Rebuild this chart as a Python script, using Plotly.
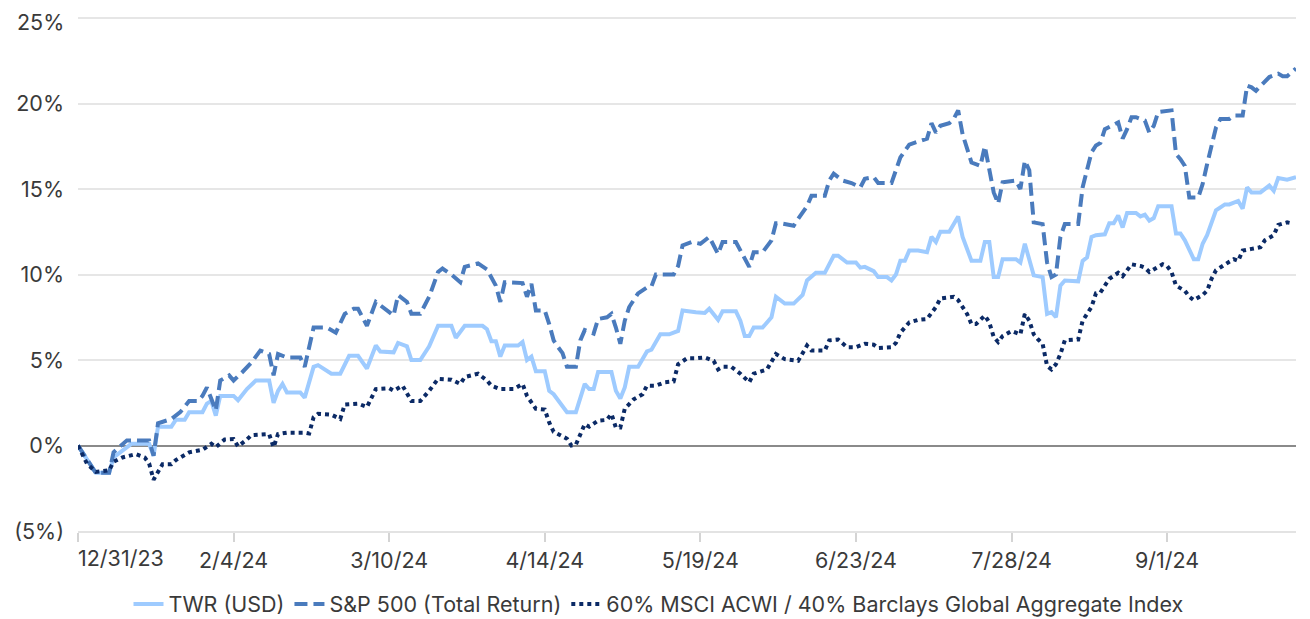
import pandas as pd
import plotly.graph_objects as go

BASE = pd.Timestamp("2023-12-31")

# ---- data (day offsets from 12/31/23, cumulative return in %) ----
twr_days = [0, 4, 7, 8, 10, 12, 16, 17, 18, 21, 22, 24, 25, 28, 29, 30, 31, 32, 35, 36, 38, 40, 43, 44, 45, 46, 47, 50, 51, 53, 54, 57, 59, 61, 63, 65, 67, 68, 71, 72, 74, 75, 77, 79, 81, 84, 85, 87, 91, 92, 93, 94, 95, 96, 99, 100, 101, 102, 103, 105, 106, 107, 110, 112, 114, 115, 116, 117, 120, 121, 122, 123, 124, 126, 128, 129, 131, 133, 135, 136, 139, 141, 142, 143, 144, 145, 148, 149, 150, 151, 152, 154, 156, 157, 159, 161, 163, 164, 166, 168, 170, 171, 173, 175, 176, 177, 179, 180, 182, 183, 184, 185, 186, 187, 189, 191, 192, 193, 194, 196, 197, 198, 199, 201, 203, 204, 205, 206, 207, 208, 211, 212, 213, 215, 217, 218, 219, 220, 221, 222, 225, 226, 227, 228, 229, 231, 232, 233, 234, 235, 236, 238, 239, 240, 241, 242, 243, 246, 247, 248, 249, 251, 252, 253, 254, 256, 258, 259, 261, 262, 263, 264, 266, 268, 269, 270, 272, 274]
twr_vals = [0, -1.6, -1.6, -0.7, -0.3, 0.1, 0.1, -0.6, 1.1, 1.1, 1.5, 1.5, 1.95, 1.95, 2.45, 2.6, 1.75, 2.9, 2.9, 2.65, 3.3, 3.8, 3.8, 2.5, 3.2, 3.6, 3.1, 3.1, 2.8, 4.6, 4.7, 4.2, 4.2, 5.25, 5.25, 4.5, 5.85, 5.5, 5.45, 6.0, 5.8, 5.0, 5.0, 5.8, 7.0, 7.0, 6.3, 7.0, 7.0, 6.8, 6.1, 6.1, 5.2, 5.85, 5.85, 6.05, 5.0, 5.2, 4.35, 4.35, 3.2, 3.0, 1.95, 1.95, 3.6, 3.3, 3.3, 4.3, 4.3, 3.2, 2.75, 3.4, 4.6, 4.6, 5.5, 5.6, 6.5, 6.5, 6.7, 7.9, 7.8, 7.75, 8.0, 7.7, 7.35, 7.85, 7.85, 7.3, 6.4, 6.4, 6.9, 6.9, 7.5, 8.7, 8.3, 8.3, 8.8, 9.65, 10.1, 10.1, 11.1, 11.1, 10.7, 10.7, 10.4, 10.45, 10.2, 9.85, 9.85, 9.65, 10.0, 10.8, 10.8, 11.4, 11.4, 11.3, 12.2, 11.9, 12.5, 12.5, 12.9, 13.4, 12.2, 10.8, 10.8, 11.9, 11.9, 9.85, 9.85, 10.9, 10.9, 10.7, 11.8, 9.95, 9.85, 7.7, 7.8, 7.5, 9.35, 9.65, 9.6, 10.8, 11.0, 12.2, 12.3, 12.35, 13.0, 13.0, 13.45, 12.75, 13.6, 13.6, 13.4, 13.5, 13.15, 13.3, 14.0, 14.0, 12.4, 12.4, 12.0, 10.9, 10.9, 11.8, 12.3, 13.75, 14.1, 14.1, 14.3, 13.85, 15.1, 14.8, 14.8, 15.2, 14.9, 15.65, 15.55, 15.7]

spx_days = [0, 4, 7, 8, 11, 16, 17, 18, 21, 23, 25, 27, 28, 29, 31, 32, 34, 35, 37, 39, 41, 43, 44, 45, 47, 50, 51, 53, 56, 58, 60, 62, 63, 65, 67, 71, 72, 74, 75, 77, 79, 81, 82, 84, 86, 87, 90, 92, 94, 95, 96, 99, 100, 101, 102, 103, 105, 106, 107, 108, 109, 110, 112, 113, 114, 116, 117, 119, 120, 121, 122, 123, 124, 126, 128, 129, 130, 134, 135, 136, 138, 140, 142, 144, 145, 148, 149, 151, 152, 154, 156, 157, 158, 161, 162, 164, 165, 168, 169, 170, 172, 174, 176, 177, 179, 180, 183, 184, 185, 187, 189, 191, 192, 193, 194, 196, 197, 198, 199, 201, 203, 204, 206, 207, 208, 211, 212, 213, 214, 215, 217, 218, 219, 220, 221, 222, 225, 226, 228, 229, 230, 231, 234, 235, 236, 237, 238, 240, 241, 242, 243, 246, 247, 248, 249, 250, 252, 253, 254, 256, 257, 259, 260, 262, 263, 264, 265, 268, 270, 271, 272, 274]
spx_vals = [0, -1.6, -1.6, -0.4, 0.3, 0.3, -0.6, 1.3, 1.55, 1.95, 2.6, 2.6, 2.9, 3.4, 2.05, 3.8, 4.1, 3.8, 4.3, 4.85, 5.55, 5.35, 4.1, 5.35, 5.15, 5.15, 4.6, 6.9, 6.9, 6.6, 7.7, 8.0, 8.0, 7.0, 8.4, 7.6, 8.8, 8.4, 7.7, 7.7, 8.7, 10.15, 10.35, 10.0, 9.55, 10.45, 10.65, 10.3, 9.35, 8.4, 9.55, 9.5, 9.5, 8.7, 9.45, 7.9, 7.9, 7.1, 6.15, 5.75, 5.4, 4.6, 4.6, 6.15, 6.75, 6.55, 7.4, 7.5, 7.7, 6.9, 5.95, 7.3, 8.1, 8.9, 9.25, 9.3, 10.0, 10.0, 10.5, 11.7, 11.9, 11.8, 12.2, 11.2, 11.9, 11.9, 11.4, 10.45, 11.3, 11.3, 12.0, 13.0, 13.0, 12.85, 13.25, 14.0, 14.6, 14.6, 15.5, 15.9, 15.5, 15.35, 15.1, 15.6, 15.7, 15.35, 15.35, 16.2, 16.85, 17.6, 17.75, 17.95, 18.85, 18.3, 18.7, 18.85, 19.1, 19.6, 18.2, 16.55, 16.35, 17.5, 14.8, 14.15, 15.4, 15.5, 15.0, 16.65, 16.1, 13.05, 12.95, 10.7, 9.85, 10.0, 12.2, 12.95, 12.95, 15.1, 17.15, 17.55, 17.7, 18.5, 18.9, 17.95, 18.5, 19.2, 19.2, 19.0, 18.3, 18.7, 19.5, 19.6, 17.05, 16.75, 16.35, 14.5, 14.5, 15.3, 16.45, 18.6, 19.1, 19.1, 19.3, 19.3, 21.05, 20.95, 20.75, 21.55, 21.75, 21.6, 21.6, 22.05]

mix_days = [0, 2, 4, 7, 8, 10, 13, 15, 16, 17, 19, 21, 22, 25, 28, 30, 31, 33, 35, 36, 38, 39, 43, 44, 45, 47, 51, 52, 53, 54, 57, 59, 60, 63, 65, 67, 70, 71, 73, 75, 77, 79, 81, 84, 86, 87, 90, 92, 93, 95, 98, 100, 101, 103, 105, 106, 107, 110, 111, 112, 114, 115, 117, 119, 120, 121, 122, 123, 125, 127, 128, 130, 132, 134, 135, 137, 139, 141, 143, 144, 145, 147, 149, 151, 152, 155, 157, 159, 162, 164, 165, 168, 169, 171, 173, 175, 177, 179, 180, 183, 184, 185, 187, 189, 191, 193, 194, 196, 197, 198, 200, 201, 202, 204, 205, 206, 207, 208, 210, 212, 213, 214, 215, 216, 217, 218, 219, 220, 221, 222, 225, 226, 228, 229, 230, 232, 234, 235, 236, 237, 239, 240, 241, 242, 244, 245, 246, 247, 249, 250, 251, 253, 254, 255, 256, 259, 260, 261, 262, 264, 266, 267, 269, 270, 272, 273]
mix_vals = [0, -1.05, -1.55, -1.45, -0.95, -0.7, -0.5, -0.7, -1.05, -2.0, -1.1, -1.1, -0.85, -0.4, -0.25, 0.1, -0.1, 0.35, 0.38, -0.05, 0.35, 0.6, 0.67, -0.1, 0.67, 0.75, 0.75, 0.7, 1.65, 1.85, 1.8, 1.55, 2.4, 2.45, 2.25, 3.3, 3.35, 3.2, 3.5, 2.6, 2.6, 3.2, 3.9, 3.85, 3.6, 4.0, 4.2, 3.8, 3.5, 3.3, 3.3, 3.6, 2.9, 2.15, 2.1, 1.35, 0.8, 0.4, 0.0, 0.05, 1.25, 1.1, 1.45, 1.5, 1.85, 1.05, 1.05, 2.15, 2.7, 3.0, 3.5, 3.5, 3.7, 3.75, 4.75, 5.1, 5.1, 5.15, 4.95, 4.45, 4.6, 4.6, 4.2, 3.7, 4.2, 4.45, 5.35, 5.05, 4.95, 5.85, 5.55, 5.55, 6.15, 6.2, 5.75, 5.75, 5.95, 5.9, 5.7, 5.75, 6.0, 6.6, 7.2, 7.35, 7.4, 8.1, 8.6, 8.65, 8.7, 8.5, 7.7, 7.1, 7.1, 7.6, 7.2, 6.35, 6.05, 6.4, 6.7, 6.5, 7.7, 7.3, 6.5, 6.2, 5.95, 4.65, 4.45, 4.75, 5.35, 6.15, 6.2, 7.3, 8.1, 8.9, 8.95, 9.75, 10.1, 9.9, 10.25, 10.6, 10.5, 10.4, 10.15, 10.3, 10.6, 10.5, 10.15, 9.35, 9.05, 8.7, 8.5, 8.8, 9.05, 9.75, 10.25, 10.75, 10.9, 10.8, 11.4, 11.5, 11.6, 12.0, 12.3, 12.9, 13.05, 13.0]

series_names = ["TWR (USD)", "S&P 500 (Total Return)", "60% MSCI ACWI / 40% Barclays Global Aggregate Index"]

tick_dates = ["2023-12-31", "2024-02-04", "2024-03-10", "2024-04-14", "2024-05-19", "2024-06-23", "2024-07-28", "2024-09-01"]
tick_labels = ["12/31/23", "2/4/24", "3/10/24", "4/14/24", "5/19/24", "6/23/24", "7/28/24", "9/1/24"]
y_ticks = [-5, 0, 5, 10, 15, 20, 25]
y_labels = ["(5%)", "0%", "5%", "10%", "15%", "20%", "25%"]


def to_dates(days):
    return BASE + pd.to_timedelta(days, unit="D")


FONT = "Inter, Liberation Sans, Arial, sans-serif"
TXT = "#3a3a3a"
FS = 21.5

fig = go.Figure()
fig.add_trace(go.Scatter(x=to_dates(twr_days), y=twr_vals, name=series_names[0], mode="lines",
                         line=dict(color="#9ECBFF", width=4)))
fig.add_trace(go.Scatter(x=to_dates(spx_days), y=spx_vals, name=series_names[1], mode="lines",
                         line=dict(color="#4A7BBD", width=4, dash="13px,6px")))
fig.add_trace(go.Scatter(x=to_dates(mix_days), y=mix_vals, name=series_names[2], mode="lines",
                         line=dict(color="#0B2A66", width=4, dash="4px,4px")))

# the page body adds an 8px offset, so the figure is 8px smaller and margins compensate
fig.update_layout(
    width=1302, height=611,
    margin=dict(l=70, r=14, t=8, b=88, autoexpand=False),
    paper_bgcolor="white", plot_bgcolor="white",
    font=dict(family=FONT, size=FS, color=TXT),
    showlegend=True,
    legend=dict(orientation="h", xref="container", x=0.5, xanchor="center",
                yref="paper", y=-0.142, yanchor="middle", font=dict(size=FS, color=TXT),
                itemwidth=30, bgcolor="rgba(0,0,0,0)"),
    xaxis=dict(
        type="date", automargin=False, ticklabeloverflow="allow",
        range=[to_dates([0])[0], to_dates([274])[0]],
        tickvals=pd.to_datetime(tick_dates),
        ticktext=[""] + tick_labels[1:],
        ticks="outside", ticklen=9, tickwidth=2, tickcolor="#d4d4d4",
        showgrid=False, showline=True, linecolor="#e3e3e3", linewidth=2,
        tickfont=dict(size=FS, color=TXT), zeroline=False,
    ),
    yaxis=dict(
        automargin=False, ticklabeloverflow="allow",
        range=[-5, 25.12],
        tickvals=y_ticks, ticktext=y_labels[:-1] + [""],
        showgrid=True, gridcolor="#e6e6e6", gridwidth=2,
        zeroline=True, zerolinecolor="#8a8a8a", zerolinewidth=2,
        ticks="", ticklabelstandoff=13, tickfont=dict(size=FS, color=TXT),
        showline=False,
    ),
)

# first x label is left-aligned at the axis start
fig.add_annotation(x=to_dates([0])[0], y=0, xref="x", yref="paper", text=tick_labels[0],
                   showarrow=False, xanchor="left", yanchor="top", yshift=-12, xshift=-2,
                   font=dict(size=FS, color=TXT, family=FONT))
# top y label kept fully inside the page
fig.add_annotation(x=0, y=y_ticks[-1], xref="paper", yref="y", text=y_labels[-1],
                   showarrow=False, xanchor="right", yanchor="top", yshift=10, xshift=-13,
                   borderpad=0, font=dict(size=FS, color=TXT, family=FONT))

fig.write_html("out.html")
